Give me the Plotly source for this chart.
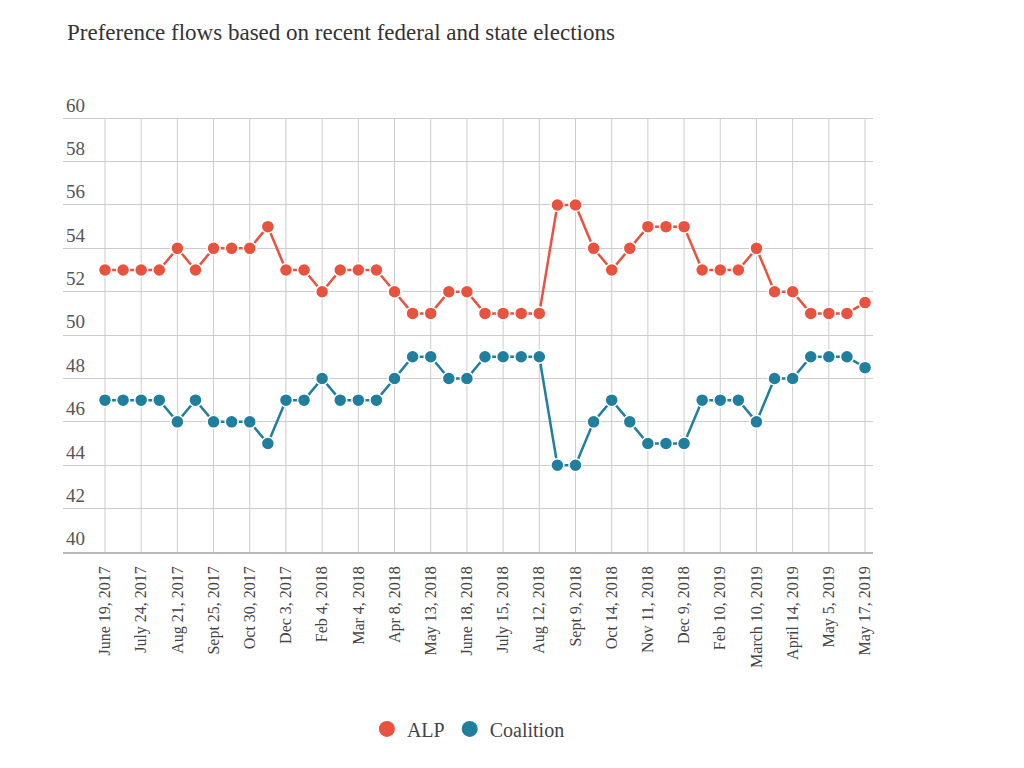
import plotly.graph_objects as go

# Tick labels (every second poll is labelled)
tick_labels = [
    "June 19, 2017", "July 24, 2017", "Aug 21, 2017", "Sept 25, 2017",
    "Oct 30, 2017", "Dec 3, 2017", "Feb 4, 2018", "Mar 4, 2018",
    "Apr 8, 2018", "May 13, 2018", "June 18, 2018", "July 15, 2018",
    "Aug 12, 2018", "Sept 9, 2018", "Oct 14, 2018", "Nov 11, 2018",
    "Dec 9, 2018", "Feb 10, 2019", "March 10, 2019", "April 14, 2019",
    "May 5, 2019", "May 17, 2019",
]

# Poll sequence number (43 polls)
poll_no = list(range(43))

alp = [53, 53, 53, 53, 54, 53, 54, 54, 54, 55, 53, 53, 52, 53, 53, 53,
       52, 51, 51, 52, 52, 51, 51, 51, 51, 56, 56, 54, 53, 54, 55, 55,
       55, 53, 53, 53, 54, 52, 52, 51, 51, 51, 51.5]

coalition = [47, 47, 47, 47, 46, 47, 46, 46, 46, 45, 47, 47, 48, 47, 47, 47,
             48, 49, 49, 48, 48, 49, 49, 49, 49, 44, 44, 46, 47, 46, 45, 45,
             45, 47, 47, 47, 46, 48, 48, 49, 49, 49, 48.5]

Y_MIN, Y_MAX = 40, 60

ALP_COLOR = "#e8533f"
COA_COLOR = "#1f7f9c"
FONT = "Liberation Serif"
GRID = "#cccccc"

fig = go.Figure()
for name, vals, col in [("ALP", alp, ALP_COLOR), ("Coalition", coalition, COA_COLOR)]:
    fig.add_trace(go.Scatter(
        x=poll_no, y=vals, name=name, mode="lines+markers",
        line=dict(color=col, width=2.5),
        marker=dict(color=col, size=13, line=dict(color="white", width=1.5)),
        showlegend=False,
    ))
    # legend-only entry: marker without line
    fig.add_trace(go.Scatter(
        x=[None], y=[None], name=name, mode="markers",
        marker=dict(color=col, size=22),
    ))

# vertical gridlines at labelled polls, limited to the value range
shapes = [dict(type="line", xref="x", yref="y", x0=t, x1=t, y0=Y_MIN, y1=Y_MAX,
               line=dict(color=GRID, width=1), layer="below")
          for t in poll_no[::2]]

fig.update_layout(
    width=1008, height=752,
    margin=dict(l=55, r=143, t=82, b=205),
    paper_bgcolor="white", plot_bgcolor="white",
    font=dict(family=FONT, color="#444", size=15),
    showlegend=True,
    legend=dict(orientation="h", x=0.5005, xanchor="center", y=-0.383, yanchor="middle",
                font=dict(family=FONT, size=20, color="#444"), itemsizing="trace"),
    shapes=shapes,
    annotations=[dict(
        text="Preference flows based on recent federal and state elections",
        xref="paper", yref="paper", x=0.0025, y=1.1247, xanchor="left", yanchor="middle",
        showarrow=False, font=dict(family=FONT, size=23, color="#333"),
    )],
)

fig.update_xaxes(
    range=[-2.32, 42.44],
    tickmode="array", tickvals=poll_no[::2], ticktext=tick_labels,
    tickangle=-90, tickfont=dict(family=FONT, size=16, color="#444"),
    showgrid=False, zeroline=False,
    showline=True, linecolor="#b8b8b8", linewidth=1.5,
    ticks="", ticklabelstandoff=6, automargin=False,
)
fig.update_yaxes(
    range=[Y_MIN, Y_MAX + 1.3], tickmode="array", tickvals=list(range(Y_MIN, Y_MAX + 1, 2)),
    ticklabelposition="inside top",
    tickfont=dict(family=FONT, size=19, color="#555"),
    showgrid=True, gridcolor=GRID, gridwidth=1,
    zeroline=False, showline=False, ticks="", automargin=False,
)

fig.write_html("out.html")
